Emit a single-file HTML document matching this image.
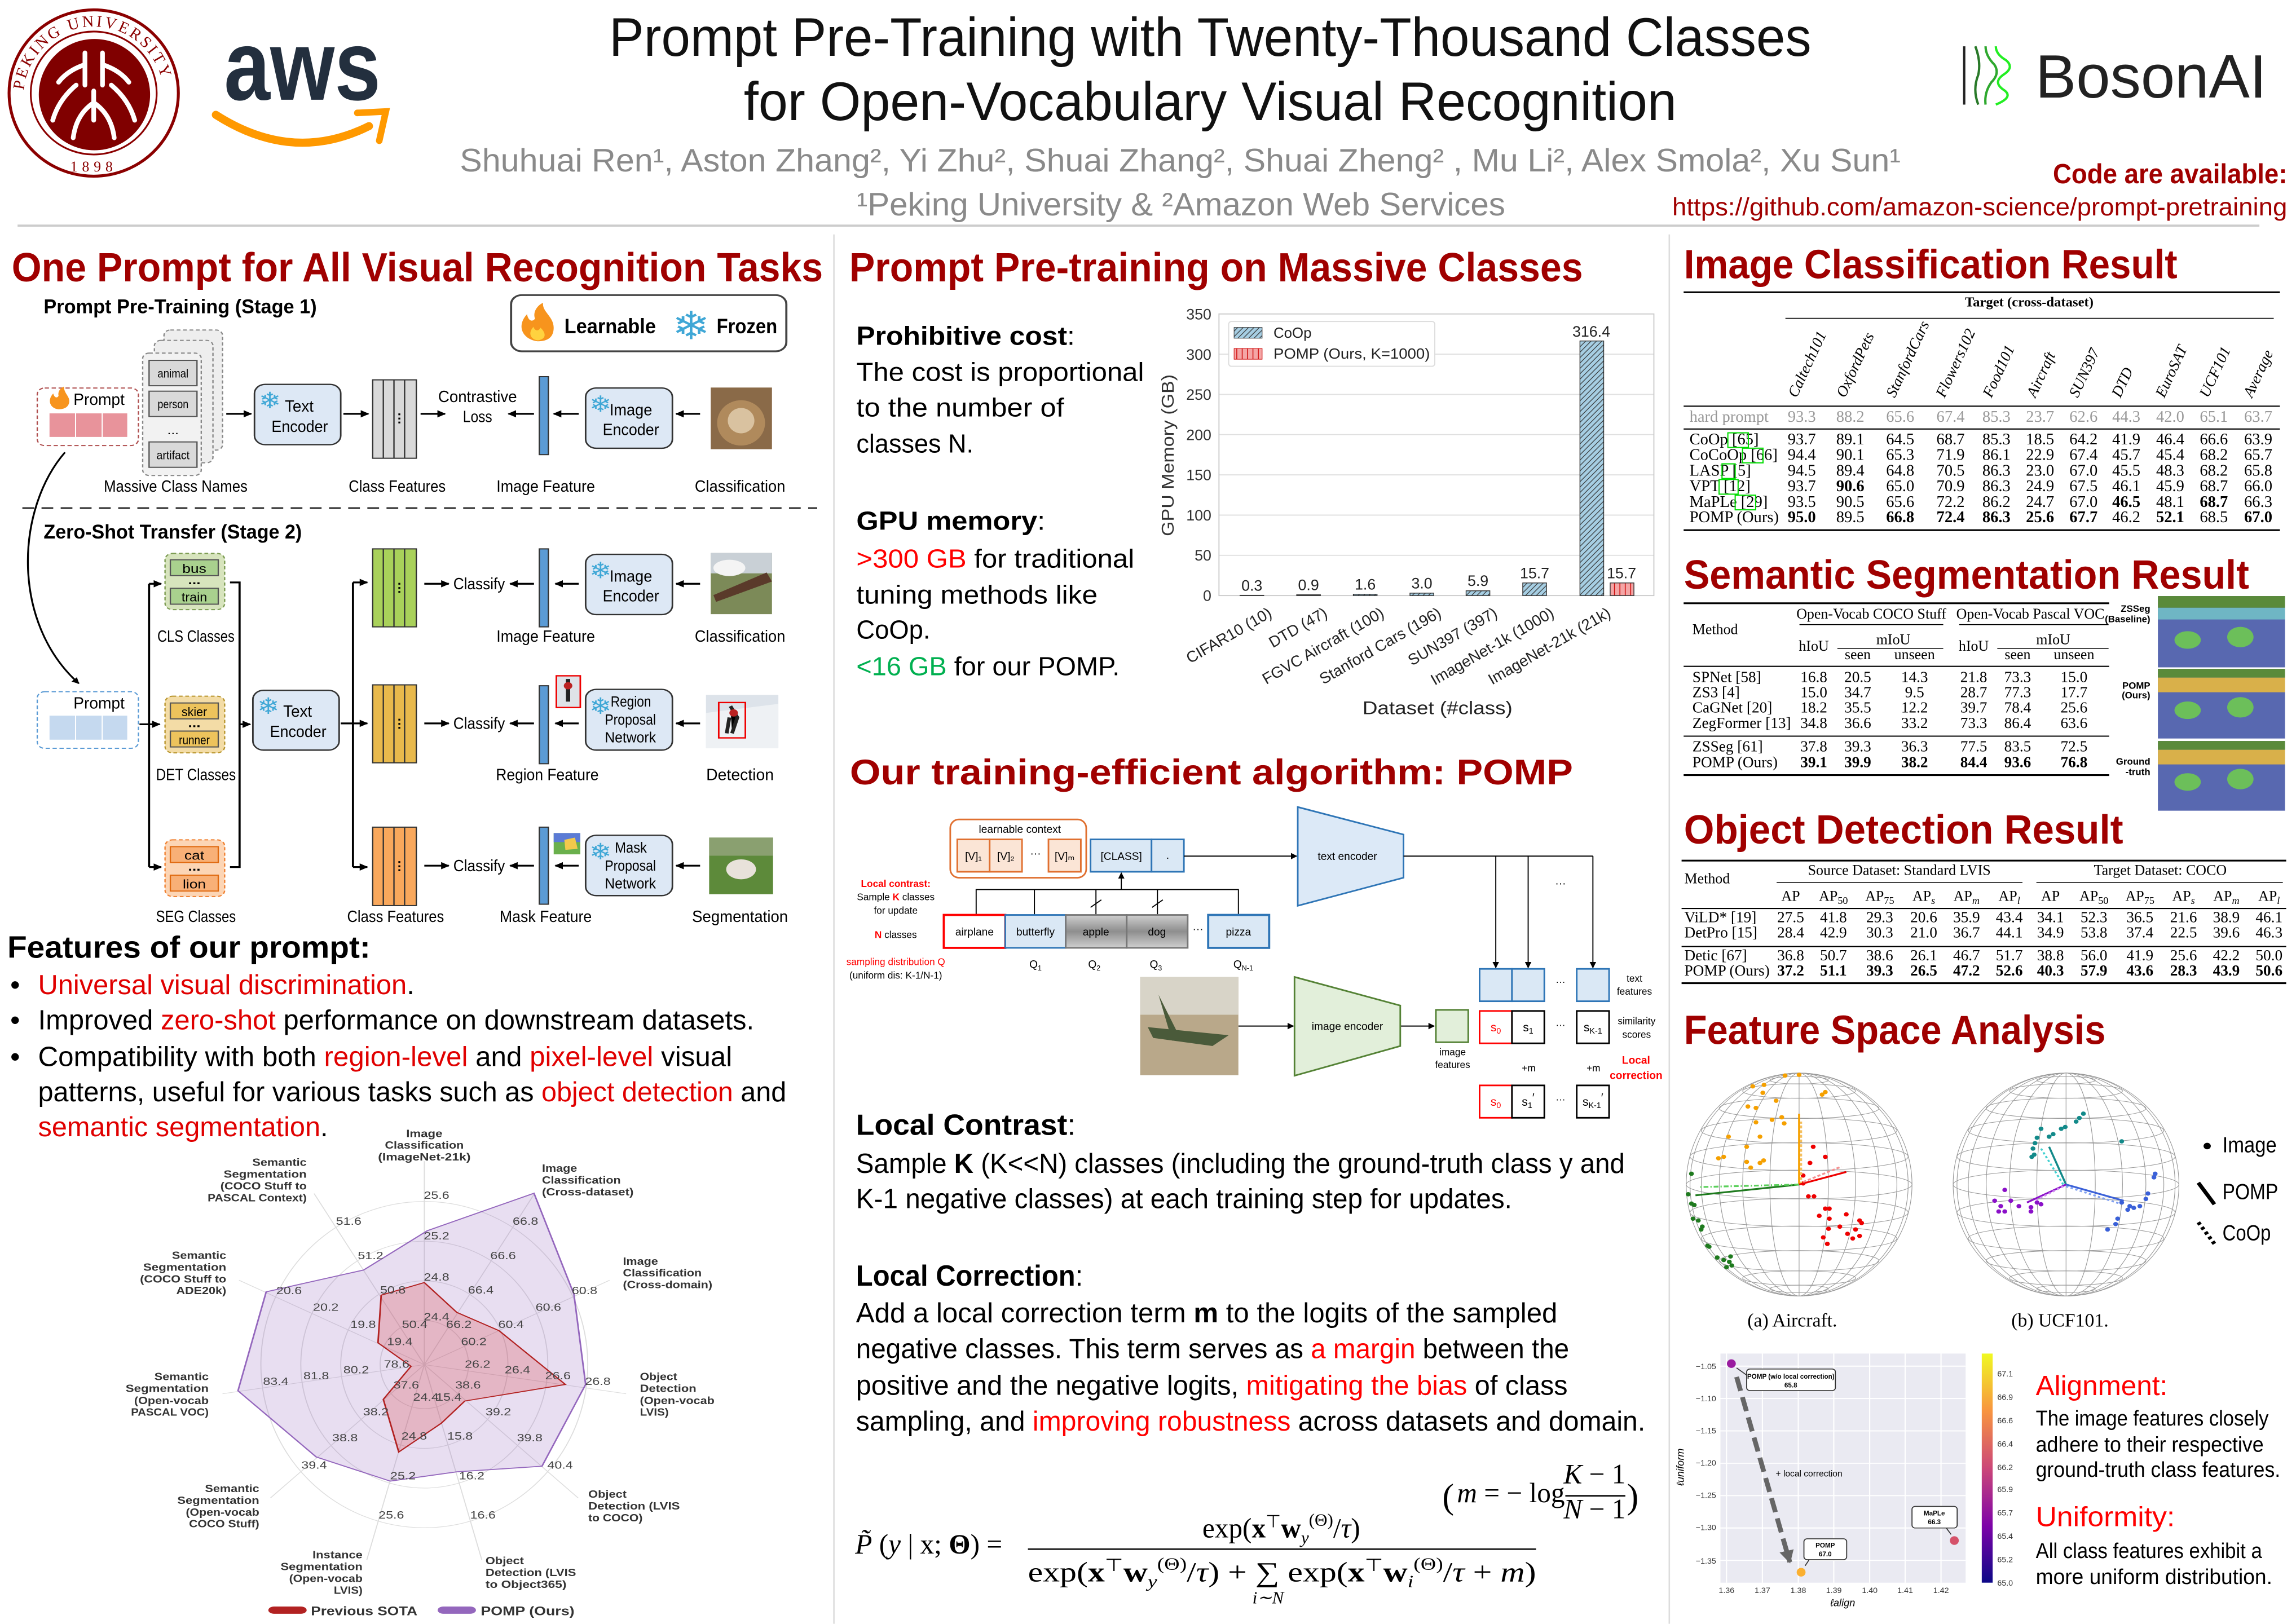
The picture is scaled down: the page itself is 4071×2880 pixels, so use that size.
<!DOCTYPE html>
<html><head><meta charset="utf-8">
<style>
html,body{margin:0;padding:0;background:#fff;}
svg{display:block;font-family:"Liberation Sans",sans-serif;}
</style></head>
<body>
<svg xmlns="http://www.w3.org/2000/svg" width="4071" height="2880" viewBox="0 0 1568 1109" font-family="Liberation Sans, sans-serif">
<defs>
<marker id="ah" viewBox="0 0 10 10" refX="9" refY="5" markerWidth="4" markerHeight="4" orient="auto"><path d="M0,0 L10,5 L0,10z" fill="#000"/></marker>
<marker id="ahs" viewBox="0 0 10 10" refX="9" refY="5" markerWidth="6" markerHeight="6" orient="auto"><path d="M0,0 L10,5 L0,10z" fill="#000"/></marker>
<marker id="ahg" viewBox="0 0 10 10" refX="9" refY="5" markerWidth="3" markerHeight="3" orient="auto"><path d="M0,0 L10,5 L0,10z" fill="#666"/></marker>
<pattern id="hb" patternUnits="userSpaceOnUse" width="10" height="10"><rect width="10" height="10" fill="#a6cee3"/><path d="M-2,12 L12,-2 M-2,2 L2,-2 M8,12 L12,8" stroke="#333" stroke-width="1.3"/></pattern>
<pattern id="hr" patternUnits="userSpaceOnUse" width="10" height="10"><rect width="10" height="10" fill="#f4a6a6"/><path d="M5,0 V10" stroke="#c00" stroke-width="1.5"/></pattern>
<linearGradient id="plasma" x1="0" y1="1" x2="0" y2="0"><stop offset="0" stop-color="#0d0887"/><stop offset="0.25" stop-color="#7e03a8"/><stop offset="0.5" stop-color="#cc4778"/><stop offset="0.75" stop-color="#f89540"/><stop offset="1" stop-color="#f0f921"/></linearGradient>
<linearGradient id="gray" x1="0" y1="0" x2="0" y2="1"><stop offset="0" stop-color="#cfcfcf"/><stop offset="0.5" stop-color="#8e8e8e"/><stop offset="1" stop-color="#cfcfcf"/></linearGradient>
<g id="sph" fill="none" stroke="#999" stroke-width="1.6">
<ellipse cx="0" cy="0" rx="280" ry="40"/>
<ellipse cx="0" cy="-77.7" rx="270.5" ry="38.6"/><ellipse cx="0" cy="77.7" rx="270.5" ry="38.6"/>
<ellipse cx="0" cy="-150" rx="242.5" ry="34.6"/><ellipse cx="0" cy="150" rx="242.5" ry="34.6"/>
<ellipse cx="0" cy="-212" rx="198" ry="28.3"/><ellipse cx="0" cy="212" rx="198" ry="28.3"/>
<ellipse cx="0" cy="-260" rx="140" ry="20"/><ellipse cx="0" cy="260" rx="140" ry="20"/>
<ellipse cx="0" cy="-290" rx="72.5" ry="10.4"/><ellipse cx="0" cy="290" rx="72.5" ry="10.4"/>
<ellipse cx="0" cy="0" rx="72.5" ry="310"/><ellipse cx="0" cy="0" rx="140" ry="310"/>
<ellipse cx="0" cy="0" rx="198" ry="310"/><ellipse cx="0" cy="0" rx="242.5" ry="310"/>
<ellipse cx="0" cy="0" rx="270.5" ry="310"/><ellipse cx="0" cy="0" rx="280" ry="310"/>
<line x1="0" y1="-310" x2="0" y2="310"/>
</g>
</defs>

<!-- ================= HEADER ================= -->
<ellipse cx="64" cy="63.4" rx="57.8" ry="56.8" fill="#fff" stroke="#8b0000" stroke-width="2"/>
<ellipse cx="64" cy="63.4" rx="43" ry="42" fill="none" stroke="#8b0000" stroke-width="1.2"/>
<circle cx="64.5" cy="64.5" r="38" fill="#800000"/>
<g stroke="#fff" stroke-width="3.2" fill="none" stroke-linecap="round">
<path d="M58,36 V58 M70,36 V58 M58,44 Q46,48 40,56 M70,44 Q82,48 88,56 M52,58 Q40,68 36,82 M76,58 Q88,68 92,82 M64,62 V82 M64,70 Q52,78 50,94 M64,70 Q76,78 78,94"/>
</g>
<path id="pkuarc" d="M16,66 A48,48 0 0 1 112,66" fill="none"/>
<text font-family="Liberation Serif,serif" font-size="11" fill="#8b0000" letter-spacing="1.5"><textPath href="#pkuarc" startOffset="3%">PEKING UNIVERSITY</textPath></text>
<text x="64" y="117" font-family="Liberation Serif,serif" font-size="10" fill="#8b0000" text-anchor="middle" letter-spacing="3">1898</text>
<text x="153" y="68" font-size="68" font-weight="bold" fill="#232f3e" textLength="107" lengthAdjust="spacingAndGlyphs">aws</text>
<path d="M147.4,78.3 Q200,112 252,86" fill="none" stroke="#ff9900" stroke-width="5.5" stroke-linecap="round"/>
<path d="M244,77 L263.5,76 L259,96" fill="none" stroke="#ff9900" stroke-width="4.5" stroke-linecap="round"/>
<text x="416" y="38" font-size="37" fill="#111" textLength="821" lengthAdjust="spacingAndGlyphs">Prompt Pre-Training with Twenty-Thousand Classes</text>
<text x="508" y="82" font-size="37" fill="#111" textLength="637" lengthAdjust="spacingAndGlyphs">for Open-Vocabulary Visual Recognition</text>
<text x="314" y="117" font-size="22" fill="#8a8a8a" textLength="984" lengthAdjust="spacingAndGlyphs">Shuhuai Ren¹,  Aston Zhang²,  Yi Zhu²,  Shuai Zhang²,  Shuai Zheng² ,  Mu Li²,  Alex Smola²,  Xu Sun¹</text>
<text x="585" y="147" font-size="22" fill="#8a8a8a" textLength="443" lengthAdjust="spacingAndGlyphs">¹Peking University &amp;  ²Amazon Web Services</text>
<line x1="1341.4" y1="31.5" x2="1341.4" y2="71.3" stroke="#222" stroke-width="1.6"/>
<path d="M1349,31.5 Q1353,42 1351,51 Q1347,61 1351,71.3" fill="none" stroke="#2a7a2a" stroke-width="1.6"/>
<path d="M1356,31.5 Q1356,38 1362,44 Q1366,50 1360,56 Q1355,63 1356,71.3" fill="none" stroke="#2ea82e" stroke-width="1.6"/>
<path d="M1363,31.5 Q1363,37 1370,41 Q1376,46 1368,51 Q1361,56 1368,61 Q1376,66 1363,71.3" fill="none" stroke="#22ee22" stroke-width="1.6"/>
<text x="1390" y="66.5" font-size="42" fill="#222" textLength="158" lengthAdjust="spacingAndGlyphs">BosonAI</text>
<text x="1562" y="125" font-size="19" font-weight="bold" fill="#a00000" text-anchor="end" textLength="160" lengthAdjust="spacingAndGlyphs">Code are available:</text>
<text x="1142" y="147" font-size="17" fill="#a00000" textLength="420" lengthAdjust="spacingAndGlyphs">https://github.com/amazon-science/prompt-pretraining</text>
<line x1="12" y1="154" x2="1543" y2="154" stroke="#ccc" stroke-width="1.5"/>
<line x1="569.5" y1="160" x2="569.5" y2="1109" stroke="#ddd" stroke-width="1"/>
<line x1="1140" y1="160" x2="1140" y2="1109" stroke="#ddd" stroke-width="1"/>

<g font-weight="bold" fill="#a00000" font-size="28">
<text x="8" y="192" textLength="554" lengthAdjust="spacingAndGlyphs">One Prompt for All Visual Recognition Tasks</text>
<text x="580" y="192" textLength="501" lengthAdjust="spacingAndGlyphs">Prompt Pre-training on Massive Classes</text>
<text x="1150" y="190" textLength="337" lengthAdjust="spacingAndGlyphs">Image Classification Result</text>
<text x="1150" y="402" textLength="386" lengthAdjust="spacingAndGlyphs">Semantic Segmentation Result</text>
<text x="1150" y="576" textLength="300" lengthAdjust="spacingAndGlyphs">Object Detection Result</text>
<text x="1150" y="713" textLength="288" lengthAdjust="spacingAndGlyphs">Feature Space Analysis</text>
</g>

<!-- ================= Z2 left diagram ================= -->
<svg x="0" y="161.8" width="570.1" height="485.4" viewBox="0 0 1568 1568" preserveAspectRatio="none">
<text x="82" y="168" font-size="44" font-weight="bold" textLength="513" lengthAdjust="spacingAndGlyphs">Prompt Pre-Training (Stage 1)</text>
<rect x="960" y="128" width="517" height="124" rx="20" fill="#fff" stroke="#444" stroke-width="4"/>
<path d="M1010,230 C980,225 970,195 990,170 C992,185 1000,188 1005,180 C1000,165 1010,150 1020,145 C1018,165 1040,175 1040,200 C1040,220 1030,230 1010,230Z" fill="#f7941d"/>
<path d="M1010,228 C995,225 992,210 1002,198 C1005,208 1012,208 1015,200 C1025,210 1028,225 1010,228Z" fill="#ffd23f"/>
<text x="1060" y="212" font-size="46" font-weight="bold" textLength="172" lengthAdjust="spacingAndGlyphs">Learnable</text>
<text x="1298" y="225" font-family="DejaVu Sans,sans-serif" font-size="86" fill="#3fa7d6" text-anchor="middle">❄</text>
<text x="1346" y="212" font-size="46" font-weight="bold" textLength="114" lengthAdjust="spacingAndGlyphs">Frozen</text>

<rect x="70" y="333" width="190" height="127" rx="14" fill="#fff" stroke="#b05050" stroke-width="2.5" stroke-dasharray="8 5"/>
<path d="M110,380 C94,378 88,360 100,345 C102,355 108,356 110,350 C108,340 115,332 120,330 C120,345 132,352 130,365 C128,376 120,380 110,380Z" fill="#f7941d"/>
<text x="138" y="370" font-size="36" textLength="96" lengthAdjust="spacingAndGlyphs">Prompt</text>
<g fill="#e8939b" stroke="#fff" stroke-width="2"><rect x="92" y="388" width="50" height="54"/><rect x="142" y="388" width="50" height="54"/><rect x="192" y="388" width="48" height="54"/></g>

<rect x="308" y="205" width="110" height="265" rx="12" fill="#eee" stroke="#888" stroke-width="2.5" stroke-dasharray="7 5"/>
<rect x="290" y="228" width="110" height="270" rx="12" fill="#eee" stroke="#888" stroke-width="2.5" stroke-dasharray="7 5"/>
<rect x="268" y="256" width="110" height="270" rx="12" fill="#f2f2f2" stroke="#888" stroke-width="2.5" stroke-dasharray="7 5"/>
<g fill="#d9d9d9" stroke="#555" stroke-width="2.5"><rect x="280" y="272" width="90" height="56"/><rect x="280" y="340" width="90" height="56"/><rect x="280" y="452" width="90" height="56"/></g>
<g font-size="26" text-anchor="middle"><text x="325" y="310" textLength="58" lengthAdjust="spacingAndGlyphs">animal</text><text x="325" y="378" textLength="58" lengthAdjust="spacingAndGlyphs">person</text><text x="325" y="435">...</text><text x="325" y="490" textLength="62" lengthAdjust="spacingAndGlyphs">artifact</text></g>

<g fill="#dde8f5" stroke="#333" stroke-width="3">
<rect x="478" y="325" width="162" height="133" rx="20"/>
<rect x="1100" y="333" width="163" height="133" rx="20"/>
<rect x="475" y="1000" width="162" height="132" rx="20"/>
<rect x="1100" y="700" width="163" height="133" rx="20"/>
<rect x="1100" y="998" width="163" height="134" rx="20"/>
<rect x="1100" y="1320" width="163" height="133" rx="20"/>
</g>
<g font-family="DejaVu Sans,sans-serif" font-size="50" fill="#3fa7d6" text-anchor="middle">
<text x="507" y="378">❄</text><text x="1128" y="386">❄</text><text x="504" y="1052">❄</text><text x="1128" y="753">❄</text><text x="1128" y="1052">❄</text><text x="1128" y="1373">❄</text>
<text x="112" y="1045">❄</text>
</g>
<g font-size="36">
<text x="535" y="385" textLength="54" lengthAdjust="spacingAndGlyphs">Text</text>
<text x="510" y="430" textLength="106" lengthAdjust="spacingAndGlyphs">Encoder</text>
<text x="1145" y="393" textLength="80" lengthAdjust="spacingAndGlyphs">Image</text>
<text x="1132" y="437" textLength="106" lengthAdjust="spacingAndGlyphs">Encoder</text>
<text x="532" y="1058" textLength="54" lengthAdjust="spacingAndGlyphs">Text</text>
<text x="507" y="1103" textLength="106" lengthAdjust="spacingAndGlyphs">Encoder</text>
<text x="1145" y="760" textLength="80" lengthAdjust="spacingAndGlyphs">Image</text>
<text x="1132" y="804" textLength="106" lengthAdjust="spacingAndGlyphs">Encoder</text>
</g>
<g font-size="32">
<text x="1147" y="1036" textLength="76" lengthAdjust="spacingAndGlyphs">Region</text>
<text x="1136" y="1076" textLength="96" lengthAdjust="spacingAndGlyphs">Proposal</text>
<text x="1136" y="1115" textLength="96" lengthAdjust="spacingAndGlyphs">Network</text>
<text x="1155" y="1358" textLength="60" lengthAdjust="spacingAndGlyphs">Mask</text>
<text x="1136" y="1398" textLength="96" lengthAdjust="spacingAndGlyphs">Proposal</text>
<text x="1136" y="1437" textLength="96" lengthAdjust="spacingAndGlyphs">Network</text>
</g>

<g stroke="#333" stroke-width="2.5">
<rect x="700" y="315" width="82" height="173" fill="#d9d9d9"/>
<rect x="700" y="688" width="82" height="172" fill="#a9d15a"/>
<rect x="700" y="988" width="82" height="172" fill="#e8b94c"/>
<rect x="700" y="1302" width="82" height="173" fill="#f9a85c"/>
<path d="M720,315V488M740,315V488M760,315V488 M720,688V860M740,688V860M760,688V860 M720,988V1160M740,988V1160M760,988V1160 M720,1302V1475M740,1302V1475M760,1302V1475"/>
</g>
<g font-size="26" text-anchor="middle" font-weight="bold"><text x="750" y="408">⋮</text><text x="750" y="782">⋮</text><text x="750" y="1082">⋮</text><text x="750" y="1396">⋮</text></g>
<g fill="#5b9bd5" stroke="#333" stroke-width="2.5">
<rect x="1013" y="308" width="17" height="172"/><rect x="1013" y="688" width="17" height="172"/><rect x="1013" y="990" width="17" height="172"/><rect x="1013" y="1302" width="17" height="170"/>
</g>
<g stroke="#000" stroke-width="4" marker-end="url(#ah)">
<line x1="425" y1="390" x2="472" y2="390"/><line x1="645" y1="390" x2="692" y2="390"/><line x1="790" y1="390" x2="836" y2="390"/>
<line x1="1003" y1="390" x2="955" y2="390"/><line x1="1087" y1="390" x2="1040" y2="390"/><line x1="1315" y1="390" x2="1270" y2="390"/>
<line x1="262" y1="1075" x2="300" y2="1075"/><line x1="280" y1="765" x2="303" y2="765"/><line x1="280" y1="1390" x2="303" y2="1390"/>
<line x1="450" y1="1075" x2="470" y2="1075"/>
<line x1="663" y1="762" x2="690" y2="762"/><line x1="663" y1="1073" x2="690" y2="1073"/><line x1="663" y1="1390" x2="690" y2="1390"/>
<line x1="797" y1="765" x2="843" y2="765"/><line x1="1003" y1="765" x2="958" y2="765"/><line x1="1087" y1="765" x2="1043" y2="765"/><line x1="1315" y1="765" x2="1270" y2="765"/>
<line x1="797" y1="1073" x2="843" y2="1073"/><line x1="1003" y1="1073" x2="958" y2="1073"/><line x1="1087" y1="1073" x2="1043" y2="1073"/><line x1="1315" y1="1073" x2="1270" y2="1073"/>
<line x1="797" y1="1387" x2="843" y2="1387"/><line x1="1003" y1="1387" x2="958" y2="1387"/><line x1="1087" y1="1387" x2="1043" y2="1387"/><line x1="1315" y1="1387" x2="1270" y2="1387"/>
</g>
<g stroke="#000" stroke-width="4" fill="none">
<line x1="280" y1="765" x2="280" y2="1390"/>
<path d="M432,762 H450 V1390 H432"/>
<line x1="640" y1="1073" x2="663" y2="1073"/><line x1="663" y1="762" x2="663" y2="1390"/>
<path d="M122,475 C30,600 20,850 148,985" stroke-width="3.5" marker-end="url(#ah)"/>
</g>
<line x1="42" y1="598" x2="1535" y2="598" stroke="#333" stroke-width="4" stroke-dasharray="22 14"/>
<text x="82" y="665" font-size="44" font-weight="bold" textLength="485" lengthAdjust="spacingAndGlyphs">Zero-Shot Transfer (Stage 2)</text>

<rect x="70" y="1003" width="190" height="125" rx="14" fill="#fff" stroke="#5b9bd5" stroke-width="2.5" stroke-dasharray="8 5"/>
<text x="138" y="1040" font-size="36" textLength="96" lengthAdjust="spacingAndGlyphs">Prompt</text>
<g fill="#c5d9ef" stroke="#fff" stroke-width="2"><rect x="92" y="1055" width="50" height="55"/><rect x="142" y="1055" width="50" height="55"/><rect x="192" y="1055" width="48" height="55"/></g>

<rect x="310" y="698" width="112" height="124" rx="14" fill="#d7e4bd" stroke="#7a9a50" stroke-width="2.5" stroke-dasharray="7 5"/>
<rect x="310" y="1013" width="112" height="125" rx="14" fill="#f3dca6" stroke="#b8952e" stroke-width="2.5" stroke-dasharray="7 5"/>
<rect x="310" y="1330" width="112" height="125" rx="14" fill="#fcd5b5" stroke="#f08030" stroke-width="2.5" stroke-dasharray="7 5"/>
<g stroke="#555" stroke-width="2.5">
<rect x="320" y="712" width="90" height="35" fill="#a9d18e"/><rect x="320" y="775" width="90" height="35" fill="#a9d18e"/>
<rect x="320" y="1028" width="90" height="35" fill="#edc35c"/><rect x="320" y="1090" width="90" height="35" fill="#edc35c"/>
<rect x="320" y="1345" width="90" height="35" fill="#f8b077" stroke="#e06a10"/><rect x="320" y="1408" width="90" height="35" fill="#f8b077" stroke="#e06a10"/>
</g>
<g font-size="28" text-anchor="middle">
<text x="365" y="741">bus</text><text x="365" y="766" font-weight="bold">...</text><text x="365" y="804" textLength="48" lengthAdjust="spacingAndGlyphs">train</text>
<text x="365" y="1057" textLength="48" lengthAdjust="spacingAndGlyphs">skier</text><text x="365" y="1081" font-weight="bold">...</text><text x="365" y="1119" textLength="58" lengthAdjust="spacingAndGlyphs">runner</text>
<text x="365" y="1374">cat</text><text x="365" y="1398" font-weight="bold">...</text><text x="365" y="1437">lion</text>
</g>
<rect x="1335" y="332" width="115" height="136" fill="#8a6a48"/><ellipse cx="1392" cy="410" rx="45" ry="50" fill="#b08a5c"/><ellipse cx="1392" cy="405" rx="25" ry="28" fill="#d9c2a0"/>
<rect x="1335" y="697" width="115" height="135" fill="#7c8a58"/><rect x="1335" y="697" width="115" height="45" fill="#c9d0d6"/><path d="M1340,790 L1440,740 L1450,760 L1345,805Z" fill="#5a3a2a"/><ellipse cx="1370" cy="730" rx="30" ry="18" fill="#f4f4f4"/>
<rect x="1326" y="1010" width="136" height="118" fill="#dde3ea"/><path d="M1326,1050 L1462,1030 L1462,1128 L1326,1128Z" fill="#eef1f4"/><rect x="1350" y="1027" width="50" height="78" fill="none" stroke="#e00" stroke-width="3"/><path d="M1372,1035 L1385,1060 L1375,1095 M1370,1060 L1365,1095" stroke="#222" stroke-width="7"/><circle cx="1378" cy="1050" r="8" fill="#b22"/>
<rect x="1332" y="1325" width="120" height="125" fill="#5d8a3a"/><rect x="1332" y="1325" width="120" height="40" fill="#8aa070"/><ellipse cx="1392" cy="1395" rx="28" ry="22" fill="#e8e2da"/>
<rect x="1045" y="968" width="45" height="70" fill="#dfe3e8" stroke="#e00" stroke-width="3"/><path d="M1067,975 V1025" stroke="#222" stroke-width="8"/><circle cx="1067" cy="990" r="8" fill="#b22"/>
<rect x="1040" y="1315" width="50" height="47" fill="#6ab04c"/><rect x="1040" y="1315" width="50" height="20" fill="#5b7bd5"/><path d="M1060,1330 L1080,1325 L1085,1350 L1062,1352Z" fill="#f2c94c"/>
<g font-size="36" text-anchor="middle">
<text x="330" y="562" textLength="270" lengthAdjust="spacingAndGlyphs">Massive Class Names</text>
<text x="746" y="562" textLength="182" lengthAdjust="spacingAndGlyphs">Class Features</text>
<text x="1025" y="562" textLength="185" lengthAdjust="spacingAndGlyphs">Image Feature</text>
<text x="1390" y="562" textLength="170" lengthAdjust="spacingAndGlyphs">Classification</text>
<text x="897" y="364" textLength="148" lengthAdjust="spacingAndGlyphs">Contrastive</text>
<text x="897" y="408" textLength="55" lengthAdjust="spacingAndGlyphs">Loss</text>
<text x="368" y="893" textLength="145" lengthAdjust="spacingAndGlyphs">CLS Classes</text>
<text x="368" y="1198" textLength="150" lengthAdjust="spacingAndGlyphs">DET Classes</text>
<text x="368" y="1511" textLength="150" lengthAdjust="spacingAndGlyphs">SEG Classes</text>
<text x="900" y="777" textLength="97" lengthAdjust="spacingAndGlyphs">Classify</text>
<text x="900" y="1085" textLength="97" lengthAdjust="spacingAndGlyphs">Classify</text>
<text x="900" y="1399" textLength="97" lengthAdjust="spacingAndGlyphs">Classify</text>
<text x="1025" y="893" textLength="185" lengthAdjust="spacingAndGlyphs">Image Feature</text>
<text x="1390" y="893" textLength="170" lengthAdjust="spacingAndGlyphs">Classification</text>
<text x="1028" y="1198" textLength="193" lengthAdjust="spacingAndGlyphs">Region Feature</text>
<text x="1390" y="1198" textLength="127" lengthAdjust="spacingAndGlyphs">Detection</text>
<text x="743" y="1511" textLength="182" lengthAdjust="spacingAndGlyphs">Class Features</text>
<text x="1025" y="1511" textLength="173" lengthAdjust="spacingAndGlyphs">Mask Feature</text>
<text x="1390" y="1511" textLength="180" lengthAdjust="spacingAndGlyphs">Segmentation</text>
</g>
</svg>

<text x="5" y="654" font-size="21" font-weight="bold" textLength="248" lengthAdjust="spacingAndGlyphs">Features of our prompt:</text>
<g font-size="19">
<text x="7" y="679">•</text><text x="7" y="703">•</text><text x="7" y="728">•</text>
<text x="26" y="679" textLength="257" lengthAdjust="spacingAndGlyphs"><tspan fill="#e00000">Universal visual discrimination</tspan>.</text>
<text x="26" y="703" textLength="489" lengthAdjust="spacingAndGlyphs">Improved <tspan fill="#e00000">zero-shot</tspan> performance on downstream datasets.</text>
<text x="26" y="728" textLength="474" lengthAdjust="spacingAndGlyphs">Compatibility with both <tspan fill="#e00000">region-level</tspan> and <tspan fill="#e00000">pixel-level</tspan> visual</text>
<text x="26" y="752" textLength="511" lengthAdjust="spacingAndGlyphs">patterns, useful for various tasks such as <tspan fill="#e00000">object detection</tspan> and</text>
<text x="26" y="776" textLength="198" lengthAdjust="spacingAndGlyphs"><tspan fill="#e00000">semantic segmentation</tspan>.</text>
</g>

<!-- ================= Z5 radar ================= -->
<svg x="0" y="755" width="570.1" height="354.4" viewBox="0 0 1568 1568" preserveAspectRatio="none">
<g fill="none" stroke="#ddd" stroke-width="2">
<ellipse cx="797" cy="783" rx="83" ry="133"/><ellipse cx="797" cy="783" rx="157" ry="253"/><ellipse cx="797" cy="783" rx="232" ry="373"/><ellipse cx="797" cy="783" rx="307" ry="493"/>
<path d="M797,783L797,168 M797,783L1004,266 M797,783L1145,528 M797,783L1176,871 M797,783L1086,1186 M797,783L905,1373 M797,783L689,1373 M797,783L508,1186 M797,783L418,871 M797,783L449,528 M797,783L590,266"/>
</g>
<polygon points="803,378 1003,265 1078,570 1100,843 1018,1090 858,1107 733,1135 594,1062 447,862 500,563 683,497" fill="#9467bd" fill-opacity="0.22" stroke="#9467bd" stroke-width="3"/>
<polygon points="797,535 858,625 937,680 1062,843 873,893 829,960 749,1047 720,888 772,788 710,717 716,573" fill="#d62728" fill-opacity="0.22" stroke="#b22222" stroke-width="3"/>
<g font-size="32" fill="#444" text-anchor="middle">
<text x="820" y="282" textLength="48" lengthAdjust="spacingAndGlyphs">25.6</text><text x="820" y="405" textLength="48" lengthAdjust="spacingAndGlyphs">25.2</text><text x="820" y="529" textLength="48" lengthAdjust="spacingAndGlyphs">24.8</text><text x="820" y="649" textLength="48" lengthAdjust="spacingAndGlyphs">24.4</text>
<text x="987" y="360" textLength="48" lengthAdjust="spacingAndGlyphs">66.8</text><text x="945" y="464" textLength="48" lengthAdjust="spacingAndGlyphs">66.6</text><text x="903" y="568" textLength="48" lengthAdjust="spacingAndGlyphs">66.4</text><text x="862" y="672" textLength="48" lengthAdjust="spacingAndGlyphs">66.2</text>
<text x="1098" y="570" textLength="48" lengthAdjust="spacingAndGlyphs">60.8</text><text x="1030" y="620" textLength="48" lengthAdjust="spacingAndGlyphs">60.6</text><text x="960" y="672" textLength="48" lengthAdjust="spacingAndGlyphs">60.4</text><text x="890" y="724" textLength="48" lengthAdjust="spacingAndGlyphs">60.2</text>
<text x="1123" y="844" textLength="48" lengthAdjust="spacingAndGlyphs">26.8</text><text x="1048" y="827" textLength="48" lengthAdjust="spacingAndGlyphs">26.6</text><text x="972" y="809" textLength="48" lengthAdjust="spacingAndGlyphs">26.4</text><text x="897" y="792" textLength="48" lengthAdjust="spacingAndGlyphs">26.2</text>
<text x="1052" y="1097" textLength="48" lengthAdjust="spacingAndGlyphs">40.4</text><text x="995" y="1015" textLength="48" lengthAdjust="spacingAndGlyphs">39.8</text><text x="936" y="936" textLength="48" lengthAdjust="spacingAndGlyphs">39.2</text><text x="879" y="855" textLength="48" lengthAdjust="spacingAndGlyphs">38.6</text>
<text x="907" y="1248" textLength="48" lengthAdjust="spacingAndGlyphs">16.6</text><text x="886" y="1130" textLength="48" lengthAdjust="spacingAndGlyphs">16.2</text><text x="864" y="1010" textLength="48" lengthAdjust="spacingAndGlyphs">15.8</text><text x="843" y="892" textLength="48" lengthAdjust="spacingAndGlyphs">15.4</text>
<text x="735" y="1248" textLength="48" lengthAdjust="spacingAndGlyphs">25.6</text><text x="757" y="1130" textLength="48" lengthAdjust="spacingAndGlyphs">25.2</text><text x="778" y="1010" textLength="48" lengthAdjust="spacingAndGlyphs">24.8</text><text x="800" y="892" textLength="48" lengthAdjust="spacingAndGlyphs">24.4</text>
<text x="590" y="1097" textLength="48" lengthAdjust="spacingAndGlyphs">39.4</text><text x="648" y="1015" textLength="48" lengthAdjust="spacingAndGlyphs">38.8</text><text x="706" y="936" textLength="48" lengthAdjust="spacingAndGlyphs">38.2</text><text x="763" y="855" textLength="48" lengthAdjust="spacingAndGlyphs">37.6</text>
<text x="518" y="844" textLength="48" lengthAdjust="spacingAndGlyphs">83.4</text><text x="594" y="827" textLength="48" lengthAdjust="spacingAndGlyphs">81.8</text><text x="669" y="809" textLength="48" lengthAdjust="spacingAndGlyphs">80.2</text><text x="745" y="792" textLength="48" lengthAdjust="spacingAndGlyphs">78.6</text>
<text x="543" y="570" textLength="48" lengthAdjust="spacingAndGlyphs">20.6</text><text x="612" y="620" textLength="48" lengthAdjust="spacingAndGlyphs">20.2</text><text x="682" y="672" textLength="48" lengthAdjust="spacingAndGlyphs">19.8</text><text x="751" y="724" textLength="48" lengthAdjust="spacingAndGlyphs">19.4</text>
<text x="655" y="360" textLength="48" lengthAdjust="spacingAndGlyphs">51.6</text><text x="696" y="464" textLength="48" lengthAdjust="spacingAndGlyphs">51.2</text><text x="738" y="568" textLength="48" lengthAdjust="spacingAndGlyphs">50.8</text><text x="779" y="672" textLength="48" lengthAdjust="spacingAndGlyphs">50.4</text>
</g>
<g font-size="32" font-weight="bold" fill="#333">
<g text-anchor="middle"><text x="797" y="95" textLength="68" lengthAdjust="spacingAndGlyphs">Image</text><text x="797" y="130" textLength="148" lengthAdjust="spacingAndGlyphs">Classification</text><text x="797" y="166" textLength="174" lengthAdjust="spacingAndGlyphs">(ImageNet-21k)</text></g>
<text x="1018" y="200" textLength="66" lengthAdjust="spacingAndGlyphs">Image</text><text x="1018" y="236" textLength="148" lengthAdjust="spacingAndGlyphs">Classification</text><text x="1018" y="272" textLength="172" lengthAdjust="spacingAndGlyphs">(Cross-dataset)</text>
<text x="1170" y="481" textLength="66" lengthAdjust="spacingAndGlyphs">Image</text><text x="1170" y="516" textLength="148" lengthAdjust="spacingAndGlyphs">Classification</text><text x="1170" y="552" textLength="168" lengthAdjust="spacingAndGlyphs">(Cross-domain)</text>
<text x="1202" y="830" textLength="70" lengthAdjust="spacingAndGlyphs">Object</text><text x="1202" y="866" textLength="106" lengthAdjust="spacingAndGlyphs">Detection</text><text x="1202" y="902" textLength="140" lengthAdjust="spacingAndGlyphs">(Open-vocab</text><text x="1202" y="937" textLength="54" lengthAdjust="spacingAndGlyphs">LVIS)</text>
<text x="1105" y="1185" textLength="72" lengthAdjust="spacingAndGlyphs">Object</text><text x="1105" y="1221" textLength="172" lengthAdjust="spacingAndGlyphs">Detection (LVIS</text><text x="1105" y="1257" textLength="102" lengthAdjust="spacingAndGlyphs">to COCO)</text>
<text x="912" y="1386" textLength="72" lengthAdjust="spacingAndGlyphs">Object</text><text x="912" y="1422" textLength="170" lengthAdjust="spacingAndGlyphs">Detection (LVIS</text><text x="912" y="1458" textLength="152" lengthAdjust="spacingAndGlyphs">to Object365)</text>
<g text-anchor="end">
<text x="681" y="1368" textLength="94" lengthAdjust="spacingAndGlyphs">Instance</text><text x="681" y="1404" textLength="154" lengthAdjust="spacingAndGlyphs">Segmentation</text><text x="681" y="1440" textLength="138" lengthAdjust="spacingAndGlyphs">(Open-vocab</text><text x="681" y="1476" textLength="54" lengthAdjust="spacingAndGlyphs">LVIS)</text>
<text x="487" y="1168" textLength="102" lengthAdjust="spacingAndGlyphs">Semantic</text><text x="487" y="1204" textLength="154" lengthAdjust="spacingAndGlyphs">Segmentation</text><text x="487" y="1240" textLength="138" lengthAdjust="spacingAndGlyphs">(Open-vocab</text><text x="487" y="1275" textLength="132" lengthAdjust="spacingAndGlyphs">COCO Stuff)</text>
<text x="392" y="830" textLength="102" lengthAdjust="spacingAndGlyphs">Semantic</text><text x="392" y="866" textLength="156" lengthAdjust="spacingAndGlyphs">Segmentation</text><text x="392" y="902" textLength="140" lengthAdjust="spacingAndGlyphs">(Open-vocab</text><text x="392" y="937" textLength="146" lengthAdjust="spacingAndGlyphs">PASCAL VOC)</text>
<text x="425" y="463" textLength="102" lengthAdjust="spacingAndGlyphs">Semantic</text><text x="425" y="499" textLength="156" lengthAdjust="spacingAndGlyphs">Segmentation</text><text x="425" y="535" textLength="162" lengthAdjust="spacingAndGlyphs">(COCO Stuff to</text><text x="425" y="570" textLength="94" lengthAdjust="spacingAndGlyphs">ADE20k)</text>
<text x="576" y="182" textLength="102" lengthAdjust="spacingAndGlyphs">Semantic</text><text x="576" y="218" textLength="156" lengthAdjust="spacingAndGlyphs">Segmentation</text><text x="576" y="254" textLength="162" lengthAdjust="spacingAndGlyphs">(COCO Stuff to</text><text x="576" y="290" textLength="186" lengthAdjust="spacingAndGlyphs">PASCAL Context)</text>
</g>
</g>
<line x1="515" y1="1525" x2="565" y2="1525" stroke="#b22222" stroke-width="22" stroke-linecap="round"/>
<text x="584" y="1540" font-size="38" font-weight="bold" fill="#333" textLength="200" lengthAdjust="spacingAndGlyphs">Previous SOTA</text>
<line x1="833" y1="1525" x2="883" y2="1525" stroke="#9467bd" stroke-width="22" stroke-linecap="round"/>
<text x="903" y="1540" font-size="38" font-weight="bold" fill="#333" textLength="176" lengthAdjust="spacingAndGlyphs">POMP (Ours)</text>
</svg>

<!-- ================= Z3 middle ================= -->
<svg x="570.1" y="200.3" width="577.8" height="577.8" viewBox="0 0 1568 1568">
<g font-size="48">
<text x="40" y="95" textLength="405" lengthAdjust="spacingAndGlyphs"><tspan font-weight="bold">Prohibitive cost</tspan>:</text>
<text x="40" y="162" textLength="533" lengthAdjust="spacingAndGlyphs">The cost is proportional</text>
<text x="40" y="228" textLength="385" lengthAdjust="spacingAndGlyphs">to the number of</text>
<text x="40" y="295" textLength="217" lengthAdjust="spacingAndGlyphs">classes N.</text>
<text x="40" y="438" textLength="350" lengthAdjust="spacingAndGlyphs"><tspan font-weight="bold">GPU memory</tspan>:</text>
<text x="40" y="508" textLength="515" lengthAdjust="spacingAndGlyphs"><tspan fill="#ff0000">&gt;300 GB</tspan> for traditional</text>
<text x="40" y="575" textLength="447" lengthAdjust="spacingAndGlyphs">tuning methods like</text>
<text x="40" y="640" textLength="137" lengthAdjust="spacingAndGlyphs">CoOp.</text>
<text x="40" y="708" textLength="488" lengthAdjust="spacingAndGlyphs"><tspan fill="#00b050">&lt;16 GB</tspan> for our POMP.</text>
</g>
<g stroke="#e0e0e0" stroke-width="2"><line x1="712" y1="485.4" x2="1518" y2="485.4"/><line x1="712" y1="410.9" x2="1518" y2="410.9"/><line x1="712" y1="336.3" x2="1518" y2="336.3"/><line x1="712" y1="261.7" x2="1518" y2="261.7"/><line x1="712" y1="187.2" x2="1518" y2="187.2"/><line x1="712" y1="112.6" x2="1518" y2="112.6"/></g>
<rect x="712" y="38" width="806" height="522" fill="none" stroke="#ccc" stroke-width="2"/>
<g font-size="28" fill="#333" text-anchor="end"><text x="698" y="570">0</text><text x="698" y="495">50</text><text x="698" y="421">100</text><text x="698" y="346">150</text><text x="698" y="272">200</text><text x="698" y="197">250</text><text x="698" y="123">300</text><text x="698" y="48">350</text></g>
<text transform="translate(628,300) rotate(-90)" font-size="32" fill="#333" text-anchor="middle" textLength="300" lengthAdjust="spacingAndGlyphs">GPU Memory (GB)</text>
<g stroke="#333" stroke-width="1.5">
<rect x="751" y="559.5" width="44" height="0.5" fill="url(#hb)"/>
<rect x="856" y="558.6" width="44" height="1.4" fill="url(#hb)"/>
<rect x="961" y="557.6" width="44" height="2.4" fill="url(#hb)"/>
<rect x="1066" y="555.5" width="44" height="4.5" fill="url(#hb)"/>
<rect x="1170" y="551.2" width="44" height="8.8" fill="url(#hb)"/>
<rect x="1275" y="536.6" width="44" height="23.4" fill="url(#hb)"/>
<rect x="1381" y="88.1" width="44" height="471.9" fill="url(#hb)"/>
<rect x="1437" y="536.6" width="44" height="23.4" fill="url(#hr)"/>
</g>
<g font-size="28" fill="#222" text-anchor="middle"><text x="773" y="551">0.3</text><text x="878" y="550">0.9</text><text x="983" y="549">1.6</text><text x="1088" y="547">3.0</text><text x="1192" y="542">5.9</text><text x="1297" y="528">15.7</text><text x="1402" y="80">316.4</text><text x="1458" y="528">15.7</text></g>
<rect x="730" y="52" width="382" height="83" rx="5" fill="#fff" stroke="#ddd" stroke-width="2"/>
<rect x="740" y="63" width="52" height="20" fill="url(#hb)" stroke="#333"/><text x="813" y="82" font-size="27" fill="#222">CoOp</text>
<rect x="740" y="102" width="52" height="20" fill="url(#hr)" stroke="#c00"/><text x="813" y="121" font-size="27" fill="#222" textLength="290" lengthAdjust="spacingAndGlyphs">POMP (Ours, K=1000)</text>
<g font-size="29" fill="#222" text-anchor="end">
<text transform="translate(812,598) rotate(-30)">CIFAR10 (10)</text>
<text transform="translate(915,598) rotate(-30)">DTD (47)</text>
<text transform="translate(1020,598) rotate(-30)">FGVC Aircraft (100)</text>
<text transform="translate(1126,598) rotate(-30)">Stanford Cars (196)</text>
<text transform="translate(1230,598) rotate(-30)">SUN397 (397)</text>
<text transform="translate(1335,598) rotate(-30)">ImageNet-1k (1000)</text>
<text transform="translate(1440,598) rotate(-30)">ImageNet-21k (21k)</text>
</g>
<text x="1117" y="780" font-size="34" fill="#222" text-anchor="middle" textLength="278" lengthAdjust="spacingAndGlyphs">Dataset (#class)</text>

<text x="28" y="910" font-size="66" font-weight="bold" fill="#a00000" textLength="1340" lengthAdjust="spacingAndGlyphs">Our training-efficient algorithm: POMP</text>

<rect x="214" y="975" width="252" height="108" rx="16" fill="#fff" stroke="#e07030" stroke-width="3"/>
<text x="343" y="1000" font-size="20" text-anchor="middle">learnable context</text>
<g fill="#fbe5d6" stroke="#e07030" stroke-width="3"><rect x="227" y="1012" width="60" height="60"/><rect x="287" y="1012" width="60" height="60"/><rect x="396" y="1012" width="60" height="60"/></g>
<g font-size="20" text-anchor="middle"><text x="257" y="1050">[V]₁</text><text x="317" y="1050">[V]₂</text><text x="372" y="1045">···</text><text x="426" y="1050">[V]ₘ</text></g>
<g fill="#dae8f5" stroke="#2e75b6" stroke-width="3"><rect x="474" y="1012" width="113" height="60"/><rect x="587" y="1012" width="60" height="60"/></g>
<text x="531" y="1050" font-size="20" text-anchor="middle">[CLASS]</text><text x="617" y="1048" font-size="20" text-anchor="middle">.</text>
<line x1="647" y1="1043" x2="856" y2="1043" stroke="#000" stroke-width="2" marker-end="url(#ahs)"/>
<polygon points="858,952 1054,1003 1054,1083 858,1135" fill="#dce9f7" stroke="#2e75b6" stroke-width="3"/>
<text x="950" y="1050" font-size="20" text-anchor="middle">text encoder</text>
<g stroke="#000" stroke-width="2" fill="none">
<path d="M1054,1043 H1405"/>
<line x1="1225" y1="1043" x2="1225" y2="1250" marker-end="url(#ahs)"/>
<line x1="1285" y1="1043" x2="1285" y2="1250" marker-end="url(#ahs)"/>
<line x1="1405" y1="1043" x2="1405" y2="1250" marker-end="url(#ahs)"/>
<path d="M262,1152 V1105 H748 V1152 M370,1105 V1152 M484,1105 V1152 M598,1105 V1152"/>
<line x1="531" y1="1105" x2="531" y2="1074" marker-end="url(#ahs)"/>
<path d="M474,1138 L494,1124 M588,1138 L608,1124"/>
<line x1="748" y1="1358" x2="850" y2="1358" marker-end="url(#ahs)"/>
<line x1="1048" y1="1358" x2="1111" y2="1358" marker-end="url(#ahs)"/>
</g>
<text x="1345" y="1100" font-size="20" text-anchor="middle">···</text>
<rect x="202" y="1152" width="114" height="61" fill="#fff" stroke="#ff0000" stroke-width="4"/>
<rect x="316" y="1152" width="112" height="61" fill="#dae8f5" stroke="#2e75b6" stroke-width="3"/>
<rect x="428" y="1152" width="113" height="61" fill="url(#gray)" stroke="#777" stroke-width="3"/>
<rect x="541" y="1152" width="113" height="61" fill="url(#gray)" stroke="#777" stroke-width="3"/>
<rect x="692" y="1152" width="113" height="61" fill="#dae8f5" stroke="#2e75b6" stroke-width="4"/>
<g font-size="20" text-anchor="middle"><text x="259" y="1190">airplane</text><text x="372" y="1190">butterfly</text><text x="484" y="1190">apple</text><text x="597" y="1190">dog</text><text x="673" y="1185">···</text><text x="748" y="1190">pizza</text></g>
<g font-size="20" text-anchor="middle"><text x="372" y="1250">Q<tspan font-size="13" dy="5">1</tspan></text><text x="481" y="1250">Q<tspan font-size="13" dy="5">2</tspan></text><text x="595" y="1250">Q<tspan font-size="13" dy="5">3</tspan></text><text x="757" y="1250">Q<tspan font-size="13" dy="5">N-1</tspan></text></g>
<g font-size="18" text-anchor="middle">
<text x="113" y="1100" fill="#ff0000" font-weight="bold">Local contrast:</text>
<text x="113" y="1125">Sample <tspan fill="#ff0000" font-weight="bold">K</tspan> classes</text>
<text x="113" y="1150">for update</text>
<text x="113" y="1195"><tspan fill="#ff0000" font-weight="bold">N</tspan> classes</text>
<text x="113" y="1245" fill="#ff0000">sampling distribution Q</text>
<text x="113" y="1270">(uniform dis: K-1/N-1)</text>
</g>
<rect x="566" y="1267" width="182" height="182" fill="#b9a88a"/><rect x="566" y="1267" width="182" height="70" fill="#d8d4c8"/><path d="M580,1360 L730,1375 L700,1395 L590,1380Z" fill="#4a5a3a"/><path d="M600,1300 L640,1380 L625,1385Z" fill="#4a5a3a"/>
<polygon points="852,1267 1048,1320 1048,1395 852,1450" fill="#e2efda" stroke="#548235" stroke-width="3"/>
<text x="950" y="1365" font-size="20" text-anchor="middle">image encoder</text>
<rect x="1114" y="1328" width="60" height="60" fill="#e2efda" stroke="#548235" stroke-width="3"/>
<g font-size="18" text-anchor="middle"><text x="1145" y="1412">image</text><text x="1145" y="1436">features</text><text x="1482" y="1276">text</text><text x="1482" y="1300">features</text><text x="1486" y="1355">similarity</text><text x="1486" y="1380">scores</text><text x="1286" y="1442">+m</text><text x="1406" y="1442">+m</text><text x="1345" y="1282">···</text><text x="1345" y="1362">···</text><text x="1345" y="1500">···</text></g>
<g font-size="20" text-anchor="middle" fill="#ff0000" font-weight="bold"><text x="1485" y="1428">Local</text><text x="1485" y="1456">correction</text></g>
<g fill="#dae8f5" stroke="#2e75b6" stroke-width="3"><rect x="1195" y="1252" width="60" height="60"/><rect x="1255" y="1252" width="60" height="60"/><rect x="1375" y="1252" width="60" height="60"/></g>
<g fill="#fff" stroke-width="3"><rect x="1195" y="1330" width="60" height="60" stroke="#ff0000"/><rect x="1255" y="1330" width="60" height="60" stroke="#000"/><rect x="1375" y="1330" width="60" height="60" stroke="#000"/><rect x="1195" y="1468" width="60" height="60" stroke="#ff0000"/><rect x="1255" y="1468" width="60" height="60" stroke="#000"/><rect x="1375" y="1468" width="60" height="60" stroke="#000"/></g>
<g font-size="22" text-anchor="middle"><text x="1225" y="1368" fill="#ff0000">s<tspan font-size="15" dy="4">0</tspan></text><text x="1285" y="1368">s<tspan font-size="15" dy="4">1</tspan></text><text x="1405" y="1368">s<tspan font-size="15" dy="4">K-1</tspan></text><text x="1225" y="1506" fill="#ff0000">s<tspan font-size="15" dy="4">0</tspan></text><text x="1285" y="1506">s<tspan font-size="15" dy="4">1</tspan><tspan dy="-12">′</tspan></text><text x="1405" y="1506">s<tspan font-size="15" dy="4">K-1</tspan><tspan dy="-12">′</tspan></text></g>
</svg>

<!-- ================= Z7 text ================= -->
<g font-size="19">
<text x="584.6" y="775" font-size="20" textLength="150" lengthAdjust="spacingAndGlyphs"><tspan font-weight="bold">Local Contrast</tspan>:</text>
<text x="584.6" y="801" textLength="525" lengthAdjust="spacingAndGlyphs">Sample <tspan font-weight="bold">K</tspan> (K&lt;&lt;N) classes (including the ground-truth class y and</text>
<text x="584.6" y="825" textLength="448" lengthAdjust="spacingAndGlyphs">K-1 negative classes) at each training step for updates.</text>
<text x="584.6" y="878" font-size="20" textLength="155" lengthAdjust="spacingAndGlyphs"><tspan font-weight="bold">Local Correction</tspan>:</text>
<text x="584.6" y="903" textLength="479" lengthAdjust="spacingAndGlyphs">Add a local correction term <tspan font-weight="bold">m</tspan> to the logits of the sampled</text>
<text x="584.6" y="927.5" textLength="487" lengthAdjust="spacingAndGlyphs">negative classes. This term serves as <tspan fill="#ff0000">a margin</tspan> between the</text>
<text x="584.6" y="952.5" textLength="486" lengthAdjust="spacingAndGlyphs">positive and the negative logits, <tspan fill="#ff0000">mitigating the bias</tspan> of class</text>
<text x="584.6" y="977" textLength="539" lengthAdjust="spacingAndGlyphs">sampling, and <tspan fill="#ff0000">improving robustness</tspan> across datasets and domain.</text>
</g>
<g font-family="Liberation Serif,serif" font-size="19">
<text x="584" y="1061"><tspan font-style="italic">P̃</tspan> (<tspan font-style="italic">y</tspan> | x; <tspan font-weight="bold">Θ</tspan>) =</text>
<line x1="702" y1="1058" x2="1049" y2="1058" stroke="#000" stroke-width="1"/>
<text x="875" y="1050" text-anchor="middle">exp(<tspan font-weight="bold">x</tspan><tspan font-size="12" dy="-7">⊤</tspan><tspan dy="7" font-weight="bold">w</tspan><tspan font-size="12" dy="4" font-style="italic">y</tspan><tspan font-size="12" dy="-12">(Θ)</tspan><tspan dy="8">/</tspan><tspan font-style="italic">τ</tspan>)</text>
<text x="702" y="1080" textLength="347" lengthAdjust="spacingAndGlyphs">exp(<tspan font-weight="bold">x</tspan><tspan font-size="12" dy="-7">⊤</tspan><tspan dy="7" font-weight="bold">w</tspan><tspan font-size="12" dy="4" font-style="italic">y</tspan><tspan font-size="12" dy="-12">(Θ)</tspan><tspan dy="8">/</tspan><tspan font-style="italic">τ</tspan>) + ∑ exp(<tspan font-weight="bold">x</tspan><tspan font-size="12" dy="-7">⊤</tspan><tspan dy="7" font-weight="bold">w</tspan><tspan font-size="12" dy="4" font-style="italic">i</tspan><tspan font-size="12" dy="-12">(Θ)</tspan><tspan dy="8">/</tspan><tspan font-style="italic">τ</tspan> + <tspan font-style="italic">m</tspan>)</text>
<text x="866" y="1095" font-size="12" font-style="italic" text-anchor="middle">i∼N</text>
<text x="985" y="1030" font-size="24">(</text>
<text x="995" y="1026"><tspan font-style="italic">m</tspan> = − log</text>
<text x="1089" y="1013" text-anchor="middle"><tspan font-style="italic">K</tspan> − 1</text>
<line x1="1069" y1="1021.6" x2="1110" y2="1021.6" stroke="#000" stroke-width="1"/>
<text x="1089" y="1037" text-anchor="middle"><tspan font-style="italic">N</tspan> − 1</text>
<text x="1111" y="1030" font-size="24">)</text>
</g>

<!-- ================= Z4 tables ================= -->
<g font-family="Liberation Serif,serif" font-size="11">
<line x1="1149.8" y1="199.5" x2="1557" y2="199.5" stroke="#000" stroke-width="1.2"/>
<text x="1385.8" y="209.2" text-anchor="middle" font-weight="bold" font-size="9.5">Target (cross-dataset)</text>
<line x1="1219.3" y1="217.3" x2="1552.8" y2="217.3" stroke="#000" stroke-width="0.6"/>
<g font-style="italic" font-size="10.5">
<text transform="translate(1227,272) rotate(-65)">Caltech101</text>
<text transform="translate(1260,272) rotate(-65)">OxfordPets</text>
<text transform="translate(1294,272) rotate(-65)">StanfordCars</text>
<text transform="translate(1328,272) rotate(-65)">Flowers102</text>
<text transform="translate(1360,272) rotate(-65)">Food101</text>
<text transform="translate(1390,272) rotate(-65)">Aircraft</text>
<text transform="translate(1419,272) rotate(-65)">SUN397</text>
<text transform="translate(1448,272) rotate(-65)">DTD</text>
<text transform="translate(1478,272) rotate(-65)">EuroSAT</text>
<text transform="translate(1508,272) rotate(-65)">UCF101</text>
<text transform="translate(1538,272) rotate(-65)">Average</text>
</g>
<line x1="1149.8" y1="277.3" x2="1557" y2="277.3" stroke="#000" stroke-width="0.8"/>
<line x1="1149.8" y1="292.9" x2="1557" y2="292.9" stroke="#000" stroke-width="0.8"/>
<line x1="1149.8" y1="362" x2="1557" y2="362" stroke="#000" stroke-width="1.2"/>
<g text-anchor="middle">
<text y="288" fill="#999"><tspan x="1230.5">93.3</tspan><tspan x="1263.6">88.2</tspan><tspan x="1297.7">65.6</tspan><tspan x="1332.1">67.4</tspan><tspan x="1363.4">85.3</tspan><tspan x="1393.2">23.7</tspan><tspan x="1422.9">62.6</tspan><tspan x="1452.1">44.3</tspan><tspan x="1482.1">42.0</tspan><tspan x="1511.9">65.1</tspan><tspan x="1542.2">63.7</tspan></text>
<text y="303.3"><tspan x="1230.5">93.7</tspan><tspan x="1263.6">89.1</tspan><tspan x="1297.7">64.5</tspan><tspan x="1332.1">68.7</tspan><tspan x="1363.4">85.3</tspan><tspan x="1393.2">18.5</tspan><tspan x="1422.9">64.2</tspan><tspan x="1452.1">41.9</tspan><tspan x="1482.1">46.4</tspan><tspan x="1511.9">66.6</tspan><tspan x="1542.2">63.9</tspan></text>
<text y="314"><tspan x="1230.5">94.4</tspan><tspan x="1263.6">90.1</tspan><tspan x="1297.7">65.3</tspan><tspan x="1332.1">71.9</tspan><tspan x="1363.4">86.1</tspan><tspan x="1393.2">22.9</tspan><tspan x="1422.9">67.4</tspan><tspan x="1452.1">45.7</tspan><tspan x="1482.1">45.4</tspan><tspan x="1511.9">68.2</tspan><tspan x="1542.2">65.7</tspan></text>
<text y="324.7"><tspan x="1230.5">94.5</tspan><tspan x="1263.6">89.4</tspan><tspan x="1297.7">64.8</tspan><tspan x="1332.1">70.5</tspan><tspan x="1363.4">86.3</tspan><tspan x="1393.2">23.0</tspan><tspan x="1422.9">67.0</tspan><tspan x="1452.1">45.5</tspan><tspan x="1482.1">48.3</tspan><tspan x="1511.9">68.2</tspan><tspan x="1542.2">65.8</tspan></text>
<text y="335.4"><tspan x="1230.5">93.7</tspan><tspan x="1263.6" font-weight="bold">90.6</tspan><tspan x="1297.7">65.0</tspan><tspan x="1332.1">70.9</tspan><tspan x="1363.4">86.3</tspan><tspan x="1393.2">24.9</tspan><tspan x="1422.9">67.5</tspan><tspan x="1452.1">46.1</tspan><tspan x="1482.1">45.9</tspan><tspan x="1511.9">68.7</tspan><tspan x="1542.2">66.0</tspan></text>
<text y="346.1"><tspan x="1230.5">93.5</tspan><tspan x="1263.6">90.5</tspan><tspan x="1297.7">65.6</tspan><tspan x="1332.1">72.2</tspan><tspan x="1363.4">86.2</tspan><tspan x="1393.2">24.7</tspan><tspan x="1422.9">67.0</tspan><tspan x="1452.1" font-weight="bold">46.5</tspan><tspan x="1482.1">48.1</tspan><tspan x="1511.9" font-weight="bold">68.7</tspan><tspan x="1542.2">66.3</tspan></text>
<text y="356.5"><tspan x="1230.5" font-weight="bold">95.0</tspan><tspan x="1263.6">89.5</tspan><tspan x="1297.7" font-weight="bold">66.8</tspan><tspan x="1332.1" font-weight="bold">72.4</tspan><tspan x="1363.4" font-weight="bold">86.3</tspan><tspan x="1393.2" font-weight="bold">25.6</tspan><tspan x="1422.9" font-weight="bold">67.7</tspan><tspan x="1452.1">46.2</tspan><tspan x="1482.1" font-weight="bold">52.1</tspan><tspan x="1511.9">68.5</tspan><tspan x="1542.2" font-weight="bold">67.0</tspan></text>
</g>
<text x="1153.8" y="288" fill="#999">hard prompt</text>
<text x="1153.8" y="303.3">CoOp [65]</text>
<text x="1153.8" y="314">CoCoOp [66]</text>
<text x="1153.8" y="324.7">LASP [5]</text>
<text x="1153.8" y="335.4">VPT [12]</text>
<text x="1153.8" y="346.1">MaPLe [29]</text>
<text x="1153.8" y="356.5">POMP (Ours)</text>
<g fill="none" stroke="#00dd00" stroke-width="0.8"><rect x="1180" y="295.5" width="14" height="10"/><rect x="1190" y="306" width="14" height="10"/><rect x="1176" y="316.7" width="9" height="10"/><rect x="1174" y="327.4" width="13" height="10"/><rect x="1185" y="338.1" width="14" height="10"/></g>

<line x1="1149.8" y1="411.9" x2="1440.4" y2="411.9" stroke="#000" stroke-width="1.2"/>
<text x="1278" y="422.3" text-anchor="middle" font-size="10">Open-Vocab COCO Stuff</text>
<text x="1386.6" y="422.3" text-anchor="middle" font-size="10">Open-Vocab Pascal VOC</text>
<g stroke="#000" stroke-width="0.6"><line x1="1228.9" y1="426.5" x2="1327.1" y2="426.5"/><line x1="1338" y1="426.5" x2="1440" y2="426.5"/><line x1="1254.8" y1="442.7" x2="1327.1" y2="442.7"/><line x1="1364" y1="442.7" x2="1440" y2="442.7"/></g>
<text x="1155.8" y="433" font-size="10">Method</text>
<g text-anchor="middle" font-size="10"><text x="1238.7" y="444.3">hIoU</text><text x="1293" y="440">mIoU</text><text x="1268.7" y="450.2">seen</text><text x="1307.5" y="450.2">unseen</text><text x="1347.9" y="444.3">hIoU</text><text x="1402.2" y="440">mIoU</text><text x="1377.9" y="450.2">seen</text><text x="1416.4" y="450.2">unseen</text></g>
<line x1="1149.8" y1="455" x2="1440.4" y2="455" stroke="#000" stroke-width="0.8"/>
<line x1="1149.8" y1="502.7" x2="1440.4" y2="502.7" stroke="#000" stroke-width="0.8"/>
<line x1="1149.8" y1="529.3" x2="1440.4" y2="529.3" stroke="#000" stroke-width="1.2"/>
<g font-size="10.5">
<text x="1155.8" y="465.7">SPNet [58]</text><text x="1155.8" y="476.1">ZS3 [4]</text><text x="1155.8" y="486.5">CaGNet [20]</text><text x="1155.8" y="497.2">ZegFormer [13]</text><text x="1155.8" y="513.1">ZSSeg [61]</text><text x="1155.8" y="523.8">POMP (Ours)</text>
<g text-anchor="middle">
<text y="465.7"><tspan x="1238.7">16.8</tspan><tspan x="1268.7">20.5</tspan><tspan x="1307.5">14.3</tspan><tspan x="1347.9">21.8</tspan><tspan x="1377.9">73.3</tspan><tspan x="1416.4">15.0</tspan></text>
<text y="476.1"><tspan x="1238.7">15.0</tspan><tspan x="1268.7">34.7</tspan><tspan x="1307.5">9.5</tspan><tspan x="1347.9">28.7</tspan><tspan x="1377.9">77.3</tspan><tspan x="1416.4">17.7</tspan></text>
<text y="486.5"><tspan x="1238.7">18.2</tspan><tspan x="1268.7">35.5</tspan><tspan x="1307.5">12.2</tspan><tspan x="1347.9">39.7</tspan><tspan x="1377.9">78.4</tspan><tspan x="1416.4">25.6</tspan></text>
<text y="497.2"><tspan x="1238.7">34.8</tspan><tspan x="1268.7">36.6</tspan><tspan x="1307.5">33.2</tspan><tspan x="1347.9">73.3</tspan><tspan x="1377.9">86.4</tspan><tspan x="1416.4">63.6</tspan></text>
<text y="513.1"><tspan x="1238.7">37.8</tspan><tspan x="1268.7">39.3</tspan><tspan x="1307.5">36.3</tspan><tspan x="1347.9">77.5</tspan><tspan x="1377.9">83.5</tspan><tspan x="1416.4">72.5</tspan></text>
<text y="523.8" font-weight="bold"><tspan x="1238.7">39.1</tspan><tspan x="1268.7">39.9</tspan><tspan x="1307.5">38.2</tspan><tspan x="1347.9">84.4</tspan><tspan x="1377.9">93.6</tspan><tspan x="1416.4">76.8</tspan></text>
</g></g>
<rect x="1473.7" y="407" width="86.8" height="48.7" fill="#5868b0"/><rect x="1473.7" y="407" width="86.8" height="8" fill="#5a8a3a"/><rect x="1473.7" y="415" width="86.8" height="8" fill="#6fb6c4"/><ellipse cx="1494" cy="437" rx="9" ry="6" fill="#6cbf5a"/><ellipse cx="1530" cy="435" rx="9" ry="7" fill="#6cbf5a"/>
<rect x="1473.7" y="456.7" width="86.8" height="47.6" fill="#5868b0"/><rect x="1473.7" y="456.7" width="86.8" height="6" fill="#5a8a3a"/><rect x="1473.7" y="462.7" width="86.8" height="10" fill="#d9b04a"/><ellipse cx="1494" cy="485" rx="9" ry="6" fill="#6cbf5a"/><ellipse cx="1530" cy="483" rx="9" ry="7" fill="#6cbf5a"/>
<rect x="1473.7" y="506" width="86.8" height="47.6" fill="#5868b0"/><rect x="1473.7" y="506" width="86.8" height="6" fill="#5a8a3a"/><rect x="1473.7" y="512" width="86.8" height="10" fill="#d9b04a"/><ellipse cx="1494" cy="534" rx="9" ry="6" fill="#6cbf5a"/><ellipse cx="1530" cy="532" rx="9" ry="7" fill="#6cbf5a"/>
<g font-size="6.5" font-weight="bold" text-anchor="end" font-family="Liberation Sans,sans-serif"><text x="1468.5" y="417.7">ZSSeg</text><text x="1468.5" y="424.9">(Baseline)</text><text x="1468.5" y="470.3">POMP</text><text x="1468.5" y="476.8">(Ours)</text><text x="1468.5" y="522.2">Ground</text><text x="1468.5" y="529.3">-truth</text></g>

<line x1="1148.4" y1="587.7" x2="1561.3" y2="587.7" stroke="#000" stroke-width="1.2"/>
<text x="1297.1" y="597.4" text-anchor="middle" font-size="10">Source Dataset:  Standard LVIS</text>
<text x="1475.3" y="597.4" text-anchor="middle" font-size="10">Target Dataset:  COCO</text>
<g stroke="#000" stroke-width="0.6"><line x1="1213.3" y1="602.6" x2="1381.2" y2="602.6"/><line x1="1390.7" y1="602.6" x2="1559" y2="602.6"/></g>
<text x="1150.3" y="603.2" font-size="10">Method</text>
<g text-anchor="middle" font-size="10">
<text y="615.2"><tspan x="1222.9">AP</tspan><tspan x="1252.1">AP<tspan font-size="7" dy="2">50</tspan></tspan><tspan x="1283.7" dy="-2">AP<tspan font-size="7" dy="2">75</tspan></tspan><tspan x="1313.8" dy="-2">AP<tspan font-size="7" dy="2" font-style="italic">s</tspan></tspan><tspan x="1343" dy="-2">AP<tspan font-size="7" dy="2" font-style="italic">m</tspan></tspan><tspan x="1372.2" dy="-2">AP<tspan font-size="7" dy="2" font-style="italic">l</tspan></tspan><tspan x="1400.3" dy="-2">AP</tspan><tspan x="1430">AP<tspan font-size="7" dy="2">50</tspan></tspan><tspan x="1461.4" dy="-2">AP<tspan font-size="7" dy="2">75</tspan></tspan><tspan x="1491.2" dy="-2">AP<tspan font-size="7" dy="2" font-style="italic">s</tspan></tspan><tspan x="1520.4" dy="-2">AP<tspan font-size="7" dy="2" font-style="italic">m</tspan></tspan><tspan x="1549.6" dy="-2">AP<tspan font-size="7" dy="2" font-style="italic">l</tspan></tspan></text>
</g>
<line x1="1148.4" y1="620.4" x2="1561.3" y2="620.4" stroke="#000" stroke-width="0.8"/>
<line x1="1148.4" y1="646.4" x2="1561.3" y2="646.4" stroke="#000" stroke-width="0.8"/>
<line x1="1148.4" y1="671.4" x2="1561.3" y2="671.4" stroke="#000" stroke-width="1.2"/>
<g font-size="10.5">
<text x="1150.3" y="629.8">ViLD* [19]</text><text x="1150.3" y="640.2">DetPro [15]</text><text x="1150.3" y="655.8">Detic [67]</text><text x="1150.3" y="666.2">POMP (Ours)</text>
<g text-anchor="middle">
<text y="629.8"><tspan x="1222.9">27.5</tspan><tspan x="1252.1">41.8</tspan><tspan x="1283.7">29.3</tspan><tspan x="1313.8">20.6</tspan><tspan x="1343">35.9</tspan><tspan x="1372.2">43.4</tspan><tspan x="1400.3">34.1</tspan><tspan x="1430">52.3</tspan><tspan x="1461.4">36.5</tspan><tspan x="1491.2">21.6</tspan><tspan x="1520.4">38.9</tspan><tspan x="1549.6">46.1</tspan></text>
<text y="640.2"><tspan x="1222.9">28.4</tspan><tspan x="1252.1">42.9</tspan><tspan x="1283.7">30.3</tspan><tspan x="1313.8">21.0</tspan><tspan x="1343">36.7</tspan><tspan x="1372.2">44.1</tspan><tspan x="1400.3">34.9</tspan><tspan x="1430">53.8</tspan><tspan x="1461.4">37.4</tspan><tspan x="1491.2">22.5</tspan><tspan x="1520.4">39.6</tspan><tspan x="1549.6">46.3</tspan></text>
<text y="655.8"><tspan x="1222.9">36.8</tspan><tspan x="1252.1">50.7</tspan><tspan x="1283.7">38.6</tspan><tspan x="1313.8">26.1</tspan><tspan x="1343">46.7</tspan><tspan x="1372.2">51.7</tspan><tspan x="1400.3">38.8</tspan><tspan x="1430">56.0</tspan><tspan x="1461.4">41.9</tspan><tspan x="1491.2">25.6</tspan><tspan x="1520.4">42.2</tspan><tspan x="1549.6">50.0</tspan></text>
<text y="666.2" font-weight="bold"><tspan x="1222.9">37.2</tspan><tspan x="1252.1">51.1</tspan><tspan x="1283.7">39.3</tspan><tspan x="1313.8">26.5</tspan><tspan x="1343">47.2</tspan><tspan x="1372.2">52.6</tspan><tspan x="1400.3">40.3</tspan><tspan x="1430">57.9</tspan><tspan x="1461.4">43.6</tspan><tspan x="1491.2">28.3</tspan><tspan x="1520.4">43.9</tspan><tspan x="1549.6">50.6</tspan></text>
</g></g>
</g>

<!-- ================= Z6 feature space ================= -->
<svg x="1136.4" y="724.2" width="431.8" height="385.2" viewBox="0 0 1568 1568" preserveAspectRatio="none">
<use href="#sph" x="335" y="345"/>
<use href="#sph" x="997" y="345"/>
<g fill="#f5a000">
<circle cx="300" cy="42" r="6"/><circle cx="335" cy="40" r="6"/><circle cx="220" cy="72" r="6"/><circle cx="248" cy="68" r="6"/><circle cx="245" cy="90" r="6"/><circle cx="278" cy="112" r="6"/><circle cx="208" cy="128" r="6"/><circle cx="228" cy="132" r="6"/><circle cx="292" cy="158" r="6"/><circle cx="298" cy="175" r="6"/><circle cx="268" cy="165" r="6"/><circle cx="228" cy="172" r="6"/><circle cx="160" cy="212" r="6"/><circle cx="238" cy="212" r="6"/><circle cx="205" cy="240" r="6"/><circle cx="148" cy="268" r="6"/><circle cx="135" cy="272" r="6"/><circle cx="205" cy="282" r="6"/><circle cx="215" cy="298" r="6"/><circle cx="238" cy="285" r="6"/><circle cx="247" cy="278" r="6"/><circle cx="392" cy="95" r="6"/><circle cx="400" cy="88" r="6"/>
</g>
<g fill="#ee0000">
<circle cx="370" cy="240" r="6"/><circle cx="400" cy="268" r="6"/><circle cx="362" cy="285" r="6"/><circle cx="345" cy="320" r="6"/><circle cx="358" cy="378" r="6"/><circle cx="372" cy="378" r="6"/><circle cx="400" cy="412" r="6"/><circle cx="410" cy="412" r="6"/><circle cx="385" cy="432" r="6"/><circle cx="410" cy="440" r="6"/><circle cx="452" cy="428" r="6"/><circle cx="485" cy="445" r="6"/><circle cx="490" cy="452" r="6"/><circle cx="475" cy="470" r="6"/><circle cx="436" cy="462" r="6"/><circle cx="408" cy="468" r="6"/><circle cx="395" cy="492" r="6"/><circle cx="455" cy="482" r="6"/><circle cx="468" cy="495" r="6"/><circle cx="485" cy="488" r="6"/><circle cx="405" cy="510" r="6"/><circle cx="345" cy="342" r="6"/>
</g>
<g fill="#1e7a1e">
<circle cx="68" cy="315" r="6"/><circle cx="60" cy="372" r="6"/><circle cx="68" cy="398" r="6"/><circle cx="75" cy="402" r="6"/><circle cx="72" cy="440" r="6"/><circle cx="85" cy="445" r="6"/><circle cx="92" cy="470" r="6"/><circle cx="95" cy="462" r="6"/><circle cx="108" cy="515" r="6"/><circle cx="112" cy="518" r="6"/><circle cx="132" cy="548" r="6"/><circle cx="148" cy="555" r="6"/><circle cx="162" cy="560" r="6"/><circle cx="165" cy="545" r="6"/><circle cx="155" cy="575" r="6"/><circle cx="168" cy="570" r="6"/>
</g>
<g stroke-width="5">
<line x1="335" y1="345" x2="335" y2="148" stroke="#f5a000"/><line x1="340" y1="345" x2="340" y2="170" stroke="#f5c060" stroke-dasharray="8 5"/>
<line x1="335" y1="345" x2="452" y2="310" stroke="#ee0000"/><line x1="345" y1="338" x2="440" y2="295" stroke="#f59090" stroke-dasharray="8 5"/>
<line x1="335" y1="345" x2="78" y2="375" stroke="#1e7a1e"/><line x1="335" y1="345" x2="88" y2="352" stroke="#5ad05a" stroke-dasharray="12 5 3 5"/>
</g>
<g fill="#138a8a">
<circle cx="1040" cy="148" r="6"/><circle cx="1030" cy="160" r="6"/><circle cx="1022" cy="170" r="6"/><circle cx="995" cy="185" r="6"/><circle cx="985" cy="190" r="6"/><circle cx="965" cy="205" r="6"/><circle cx="955" cy="212" r="6"/><circle cx="935" cy="190" r="6"/><circle cx="925" cy="215" r="6"/><circle cx="920" cy="230" r="6"/><circle cx="915" cy="245" r="6"/><circle cx="912" cy="268" r="6"/><circle cx="918" cy="262" r="6"/><circle cx="1135" cy="225" r="6"/>
</g>
<g fill="#8a10c8">
<circle cx="845" cy="360" r="6"/><circle cx="820" cy="390" r="6"/><circle cx="835" cy="405" r="6"/><circle cx="830" cy="420" r="6"/><circle cx="845" cy="420" r="6"/><circle cx="860" cy="390" r="6"/><circle cx="880" cy="405" r="6"/><circle cx="910" cy="408" r="6"/><circle cx="910" cy="420" r="6"/><circle cx="925" cy="395" r="6"/><circle cx="935" cy="400" r="6"/>
</g>
<g fill="#3a60d8">
<circle cx="1218" cy="315" r="6"/><circle cx="1215" cy="325" r="6"/><circle cx="1200" cy="370" r="6"/><circle cx="1195" cy="385" r="6"/><circle cx="1180" cy="405" r="6"/><circle cx="1165" cy="410" r="6"/><circle cx="1155" cy="405" r="6"/><circle cx="1150" cy="415" r="6"/><circle cx="1125" cy="440" r="6"/><circle cx="1120" cy="455" r="6"/><circle cx="1100" cy="470" r="6"/><circle cx="1135" cy="395" r="6"/>
</g>
<g stroke-width="5">
<line x1="997" y1="345" x2="955" y2="240" stroke="#138a8a"/><line x1="990" y1="345" x2="935" y2="245" stroke="#40d0d0" stroke-dasharray="6 6"/>
<line x1="997" y1="345" x2="900" y2="395" stroke="#8a10c8"/><line x1="990" y1="350" x2="920" y2="390" stroke="#d090f0" stroke-dasharray="6 6"/>
<line x1="997" y1="345" x2="1140" y2="390" stroke="#3a60d8"/><line x1="997" y1="350" x2="1130" y2="398" stroke="#80a0f0" stroke-dasharray="6 6"/>
</g>
<circle cx="1347" cy="238" r="9" fill="#000"/>
<line x1="1325" y1="340" x2="1365" y2="400" stroke="#000" stroke-width="10"/>
<line x1="1325" y1="450" x2="1365" y2="510" stroke="#000" stroke-width="10" stroke-dasharray="8 8"/>
<rect x="140" y="815" width="608" height="637" fill="#eaeaf2"/>
<g stroke="#fff" stroke-width="3"><path d="M155,815V1452M244,815V1452M333,815V1452M421,815V1452M510,815V1452M598,815V1452M687,815V1452 M140,850H748M140,940H748M140,1030H748M140,1120H748M140,1210H748M140,1300H748M140,1390H748"/></g>
<line x1="180" y1="880" x2="312" y2="1395" stroke="#666" stroke-width="12" stroke-dasharray="40 18" marker-end="url(#ahg)"/>
<ellipse cx="167" cy="843" rx="11" ry="12" fill="#9a1ca0"/>
<ellipse cx="340" cy="1423" rx="11" ry="12" fill="#fbb030"/>
<ellipse cx="720" cy="1335" rx="11" ry="12" fill="#d5526a"/>
<g fill="#fff" stroke="#333" stroke-width="2.5"><rect x="205" y="858" width="220" height="60" rx="8"/><rect x="615" y="1240" width="112" height="60" rx="8"/><rect x="347" y="1330" width="106" height="58" rx="8"/></g>
<g stroke="#333" stroke-width="2.5"><line x1="180" y1="855" x2="205" y2="875"/><line x1="700" y1="1300" x2="712" y2="1318"/><line x1="360" y1="1388" x2="350" y2="1405"/></g>
<rect x="788" y="815" width="27" height="637" fill="url(#plasma)"/>
</svg>
<g font-size="15">
<text x="1517.8" y="787" textLength="37" lengthAdjust="spacingAndGlyphs">Image</text>
<text x="1517.8" y="819" textLength="38" lengthAdjust="spacingAndGlyphs">POMP</text>
<text x="1517.8" y="847" textLength="33" lengthAdjust="spacingAndGlyphs">CoOp</text>
</g>
<text x="1224" y="906" font-size="13" text-anchor="middle" font-family="Liberation Serif,serif">(a) Aircraft.</text>
<text x="1406.8" y="906" font-size="13" text-anchor="middle" font-family="Liberation Serif,serif">(b) UCF101.</text>
<g font-size="5.5" fill="#333" text-anchor="end">
<text x="1172" y="935">−1.05</text><text x="1172" y="957">−1.10</text><text x="1172" y="979">−1.15</text><text x="1172" y="1001">−1.20</text><text x="1172" y="1023">−1.25</text><text x="1172" y="1045">−1.30</text><text x="1172" y="1068">−1.35</text>
</g>
<g font-size="5.5" fill="#333" text-anchor="middle">
<text x="1179.1" y="1088">1.36</text><text x="1203.6" y="1088">1.37</text><text x="1228.1" y="1088">1.38</text><text x="1252.4" y="1088">1.39</text><text x="1276.9" y="1088">1.40</text><text x="1301.1" y="1088">1.41</text><text x="1325.6" y="1088">1.42</text>
</g>
<g font-size="5.5" fill="#333">
<text x="1364" y="940">67.1</text><text x="1364" y="956">66.9</text><text x="1364" y="972">66.6</text><text x="1364" y="988">66.4</text><text x="1364" y="1004">66.2</text><text x="1364" y="1019">65.9</text><text x="1364" y="1035">65.7</text><text x="1364" y="1051">65.4</text><text x="1364" y="1067">65.2</text><text x="1364" y="1083">65.0</text>
</g>
<text transform="translate(1150,1002) rotate(-90)" font-size="7" font-style="italic" text-anchor="middle">ℓuniform</text>
<text x="1258.4" y="1097" font-size="7" font-style="italic" text-anchor="middle">ℓalign</text>
<g font-size="4.5" text-anchor="middle" font-weight="bold">
<text x="1223" y="941.5">POMP (w/o local correction)</text><text x="1223" y="947.5">65.8</text>
<text x="1321" y="1035">MaPLe</text><text x="1321" y="1041">66.3</text>
<text x="1246.5" y="1057">POMP</text><text x="1246.5" y="1063">67.0</text>
</g>
<text x="1212.7" y="1008.5" font-size="6">+ local correction</text>
<g font-size="14.5">
<text x="1390.3" y="952.7" font-size="19" fill="#ff0000" textLength="90" lengthAdjust="spacingAndGlyphs">Alignment:</text>
<text x="1390.3" y="973.6" textLength="159" lengthAdjust="spacingAndGlyphs">The image features closely</text>
<text x="1390.3" y="991.5" textLength="155.6" lengthAdjust="spacingAndGlyphs">adhere to their respective</text>
<text x="1390.3" y="1008.7" textLength="167" lengthAdjust="spacingAndGlyphs">ground-truth class features.</text>
<text x="1390.3" y="1042.4" font-size="19" fill="#ff0000" textLength="95" lengthAdjust="spacingAndGlyphs">Uniformity:</text>
<text x="1390.3" y="1064" textLength="154.5" lengthAdjust="spacingAndGlyphs">All class features exhibit a</text>
<text x="1390.3" y="1081.7" textLength="161.5" lengthAdjust="spacingAndGlyphs">more uniform distribution.</text>
</g>
</svg>
</body></html>
